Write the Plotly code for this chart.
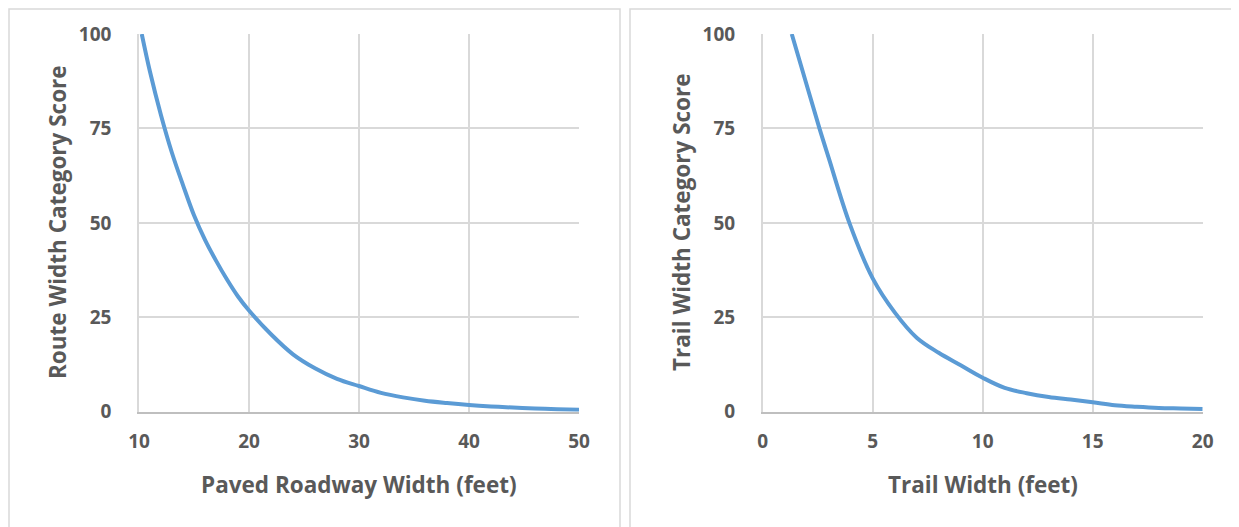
import plotly.graph_objects as go

# Left chart: Paved roadway width vs route width category score
road_width = [10.25, 11, 12, 13, 14, 15, 16, 17, 18, 19, 20, 22, 24, 26, 28, 30,
              32, 34, 36, 38, 40, 42, 44, 46, 48, 50]
route_score = [100, 90, 78.5, 68.5, 60, 52, 45.5, 40, 35, 30.5, 26.8, 20.5, 15.2,
               11.5, 8.7, 6.8, 5.0, 3.8, 2.9, 2.3, 1.8, 1.4, 1.1, 0.85, 0.65, 0.5]

# Right chart: Trail width vs trail width category score
trail_width = [1.32, 2, 2.58, 3, 3.94, 5, 6, 7, 8, 9, 10, 11, 12, 13, 14,
               15, 16, 17, 18, 19, 20]
trail_score = [100, 86.5, 75, 67.2, 50, 35.3, 26.3, 19.6, 15.6, 12.3, 9.0,
               6.3, 4.9, 3.9, 3.2, 2.5, 1.7, 1.3, 1.0, 0.85, 0.7]

left_xticks = [10, 20, 30, 40, 50]
right_xticks = [0, 5, 10, 15, 20]
yticks = [0, 25, 50, 75, 100]

# The page body adds an 8px offset, so the figure is sized to fill the rest
OFF = 8
W, H = 1239 - OFF, 527 - OFF
LINE = "#5b9bd5"
GRID = "#d9d9d9"
TXT = "#595959"
FONT = "Open Sans"

def px(x):
    return (x - OFF) / W

def py(y):
    return 1 - (y - OFF) / H

fig = go.Figure()
fig.add_trace(go.Scatter(x=road_width, y=route_score, mode="lines",
                         line=dict(color=LINE, width=4, shape="spline", smoothing=1),
                         xaxis="x", yaxis="y", showlegend=False))
fig.add_trace(go.Scatter(x=trail_width, y=trail_score, mode="lines",
                         line=dict(color=LINE, width=4, shape="spline", smoothing=1),
                         xaxis="x2", yaxis="y2", showlegend=False))

axis_common = dict(showgrid=True, gridcolor=GRID, gridwidth=1.5, zeroline=False,
                   ticks="", automargin=False,
                   tickfont=dict(family=FONT, size=19, color=TXT, weight="bold"))

ydom = [py(411.7), py(34)]
fig.update_layout(
    width=W, height=H, margin=dict(l=0, r=0, t=0, b=0, autoexpand=False),
    paper_bgcolor="white", plot_bgcolor="white",
    xaxis=dict(domain=[px(139), px(579)], range=[10, 50], tickvals=left_xticks,
               anchor="y", showline=True, linecolor="#bfbfbf", linewidth=1.5,
               ticklabelstandoff=12, **axis_common),
    yaxis=dict(domain=ydom, range=[0, 100], tickvals=yticks, anchor="x",
               showline=True, linecolor=GRID, linewidth=1.5,
               ticklabelstandoff=22, **axis_common),
    xaxis2=dict(domain=[px(762.7), px(1202.7)], range=[0, 20], tickvals=right_xticks,
                anchor="y2", showline=True, linecolor="#bfbfbf", linewidth=1.5,
                ticklabelstandoff=12, **axis_common),
    yaxis2=dict(domain=ydom, range=[0, 100], tickvals=yticks, anchor="x2",
                showline=True, linecolor=GRID, linewidth=1.5,
                ticklabelstandoff=22, **axis_common),
)

# Panel borders
fig.add_shape(type="rect", xref="paper", yref="paper",
              x0=px(9), x1=px(620), y0=py(540), y1=py(9),
              line=dict(color=GRID, width=1.5), layer="below")
fig.add_shape(type="rect", xref="paper", yref="paper",
              x0=px(630), x1=px(1260), y0=py(540), y1=py(9),
              line=dict(color=GRID, width=1.5), layer="below")

title_font = dict(family=FONT, size=22.5, color=TXT, weight="bold")
fig.add_annotation(text="Paved Roadway Width (feet)", xref="paper", yref="paper",
                   x=px(359), y=py(484), showarrow=False, font=title_font,
                   xanchor="center", yanchor="middle")
fig.add_annotation(text="Trail Width (feet)", xref="paper", yref="paper",
                   x=px(982.7), y=py(484), showarrow=False, font=title_font,
                   xanchor="center", yanchor="middle")
fig.add_annotation(text="Route Width Category Score", xref="paper", yref="paper",
                   x=px(57), y=py(222), showarrow=False, font=title_font, textangle=-90,
                   xanchor="center", yanchor="middle")
fig.add_annotation(text="Trail Width Category Score", xref="paper", yref="paper",
                   x=px(681), y=py(222), showarrow=False, font=title_font, textangle=-90,
                   xanchor="center", yanchor="middle")

fig.write_html("out.html")
